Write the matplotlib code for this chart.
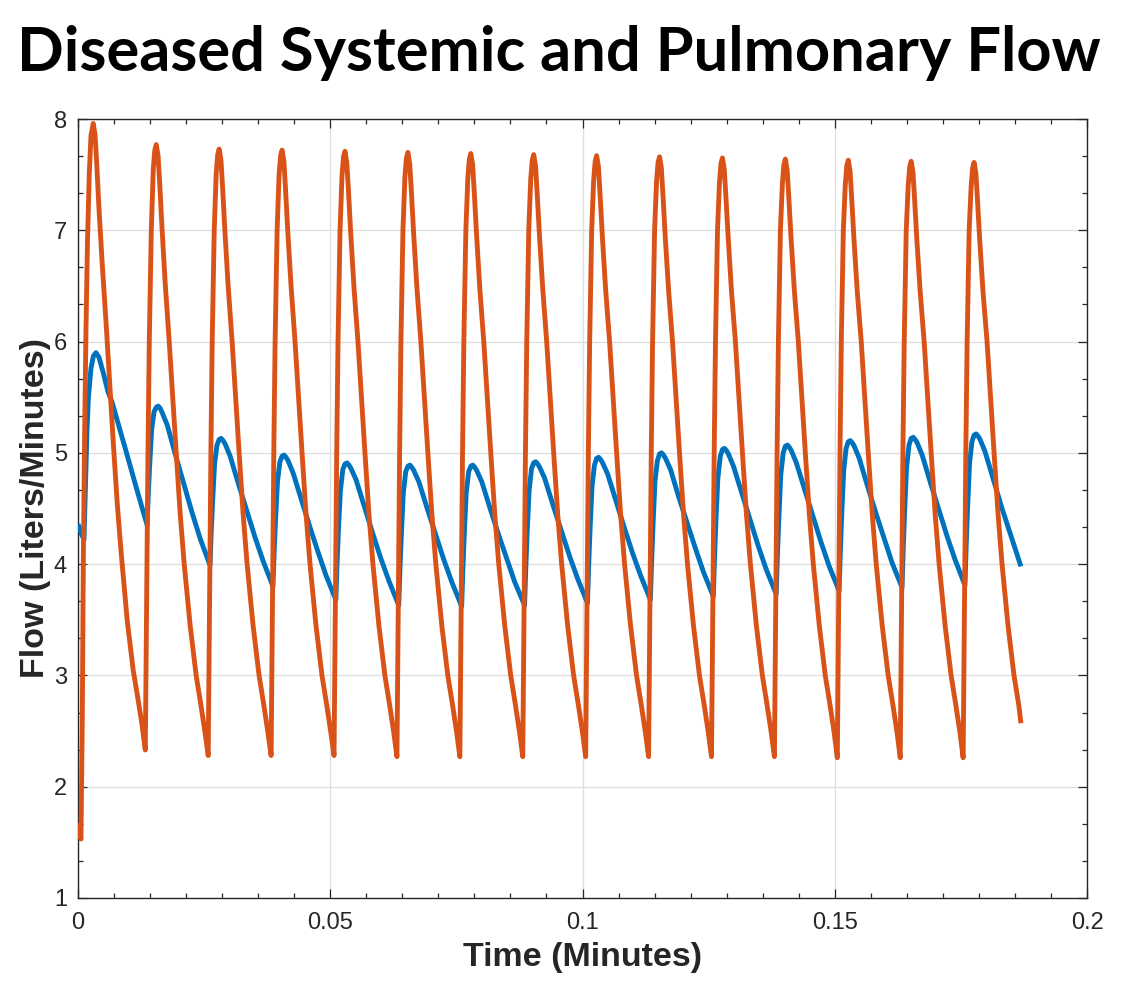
import matplotlib
matplotlib.use('Agg')
import matplotlib.pyplot as plt
from matplotlib.ticker import AutoMinorLocator, FixedLocator

# ---------------- data ----------------
title_text = "Diseased Systemic and Pulmonary Flow"
x_label = "Time (Minutes)"
y_label = "Flow (Liters/Minutes)"
x_ticks = [0, 0.05, 0.1, 0.15, 0.2]
x_tick_labels = ["0", "0.05", "0.1", "0.15", "0.2"]
y_ticks = [1, 2, 3, 4, 5, 6, 7, 8]
y_tick_labels = ["1", "2", "3", "4", "5", "6", "7", "8"]

# Systemic flow (blue)
sys_time = [
    0.0, 0.00049, 0.00119, 0.00148, 0.00178, 0.00207, 0.00257, 0.00306, 0.00356, 0.00415, 0.00500, 0.00593, 0.00672, 0.00949, 0.01160,
    0.01370, 0.01393, 0.01421, 0.01460, 0.01508, 0.01551, 0.01591, 0.01630, 0.01670, 0.01769, 0.01927, 0.02105, 0.02263, 0.02421,
    0.02617, 0.02640, 0.02668, 0.02707, 0.02755, 0.02798, 0.02838, 0.02877, 0.02917, 0.03016, 0.03174, 0.03352, 0.03510, 0.03668,
    0.03864, 0.03887, 0.03915, 0.03954, 0.04002, 0.04045, 0.04085, 0.04124, 0.04164, 0.04263, 0.04421, 0.04599, 0.04757, 0.04915,
    0.05111, 0.05134, 0.05162, 0.05201, 0.05249, 0.05292, 0.05332, 0.05371, 0.05411, 0.05510, 0.05668, 0.05846, 0.06004, 0.06162,
    0.06358, 0.06381, 0.06409, 0.06448, 0.06496, 0.06539, 0.06579, 0.06618, 0.06658, 0.06757, 0.06915, 0.07093, 0.07251, 0.07409,
    0.07605, 0.07628, 0.07656, 0.07695, 0.07743, 0.07786, 0.07826, 0.07865, 0.07905, 0.08004, 0.08162, 0.08340, 0.08498, 0.08656,
    0.08852, 0.08875, 0.08903, 0.08942, 0.08990, 0.09033, 0.09073, 0.09112, 0.09152, 0.09251, 0.09409, 0.09587, 0.09745, 0.09903,
    0.10099, 0.10122, 0.10150, 0.10189, 0.10237, 0.10280, 0.10320, 0.10359, 0.10399, 0.10498, 0.10656, 0.10834, 0.10992, 0.11150,
    0.11346, 0.11369, 0.11397, 0.11436, 0.11484, 0.11527, 0.11567, 0.11606, 0.11646, 0.11745, 0.11903, 0.12081, 0.12239, 0.12397,
    0.12593, 0.12616, 0.12644, 0.12683, 0.12731, 0.12774, 0.12814, 0.12853, 0.12893, 0.12992, 0.13150, 0.13328, 0.13486, 0.13644,
    0.13840, 0.13863, 0.13891, 0.13930, 0.13978, 0.14021, 0.14061, 0.14100, 0.14140, 0.14239, 0.14397, 0.14575, 0.14733, 0.14891,
    0.15087, 0.15110, 0.15138, 0.15177, 0.15225, 0.15268, 0.15308, 0.15347, 0.15387, 0.15486, 0.15644, 0.15822, 0.15980, 0.16138,
    0.16334, 0.16357, 0.16385, 0.16424, 0.16472, 0.16515, 0.16555, 0.16594, 0.16634, 0.16733, 0.16891, 0.17069, 0.17227, 0.17385,
    0.17581, 0.17604, 0.17632, 0.17671, 0.17719, 0.17762, 0.17802, 0.17841, 0.17881, 0.17980, 0.18138, 0.18316, 0.18474, 0.18632,
    0.18690,
]
sys_flow = [
    4.36, 4.29, 4.22, 4.70, 5.20, 5.50, 5.76, 5.87, 5.90, 5.86, 5.72, 5.55, 5.46, 5.02, 4.68,
    4.35, 4.62, 4.89, 5.21, 5.37, 5.41, 5.42, 5.40, 5.36, 5.25, 4.99, 4.71, 4.46, 4.23,
    3.99, 4.28, 4.56, 4.90, 5.07, 5.12, 5.13, 5.11, 5.08, 4.97, 4.73, 4.47, 4.24, 4.03,
    3.80, 4.10, 4.39, 4.74, 4.92, 4.97, 4.98, 4.96, 4.93, 4.82, 4.59, 4.33, 4.11, 3.90,
    3.68, 3.99, 4.30, 4.66, 4.85, 4.90, 4.91, 4.89, 4.86, 4.76, 4.53, 4.27, 4.05, 3.85,
    3.63, 3.95, 4.26, 4.64, 4.83, 4.88, 4.89, 4.87, 4.84, 4.74, 4.51, 4.26, 4.04, 3.84,
    3.62, 3.94, 4.26, 4.64, 4.83, 4.88, 4.89, 4.87, 4.84, 4.74, 4.51, 4.26, 4.05, 3.84,
    3.63, 3.95, 4.28, 4.66, 4.86, 4.91, 4.92, 4.90, 4.87, 4.77, 4.54, 4.29, 4.07, 3.87,
    3.65, 3.98, 4.31, 4.70, 4.89, 4.95, 4.96, 4.94, 4.91, 4.81, 4.58, 4.32, 4.10, 3.90,
    3.68, 4.01, 4.34, 4.74, 4.93, 4.99, 5.00, 4.98, 4.95, 4.85, 4.61, 4.36, 4.14, 3.93,
    3.71, 4.04, 4.38, 4.77, 4.97, 5.03, 5.04, 5.02, 4.99, 4.88, 4.65, 4.39, 4.16, 3.95,
    3.73, 4.07, 4.40, 4.80, 5.00, 5.06, 5.07, 5.05, 5.02, 4.91, 4.68, 4.42, 4.19, 3.98,
    3.76, 4.10, 4.44, 4.84, 5.04, 5.10, 5.11, 5.09, 5.06, 4.95, 4.71, 4.45, 4.23, 4.01,
    3.79, 4.13, 4.47, 4.87, 5.07, 5.13, 5.14, 5.12, 5.09, 4.98, 4.74, 4.48, 4.25, 4.04,
    3.81, 4.15, 4.49, 4.90, 5.10, 5.16, 5.17, 5.15, 5.12, 5.01, 4.77, 4.50, 4.28, 4.06,
    3.98,
]

# Pulmonary flow (orange)
pul_time = [
    0.0, 0.00059, 0.00085, 0.00105, 0.00132, 0.00158, 0.00188, 0.00223, 0.00257, 0.00302, 0.00338, 0.00371, 0.00415, 0.00480, 0.00559, 0.00698, 0.00777, 0.00856, 0.00974, 0.01093, 0.01192, 0.01271,
    0.01334, 0.01360, 0.01387, 0.01413, 0.01453, 0.01492, 0.01522, 0.01551, 0.01587, 0.01621, 0.01664, 0.01729, 0.01808, 0.01947, 0.02026, 0.02105, 0.02223, 0.02342, 0.02441, 0.02520,
    0.02581, 0.02607, 0.02634, 0.02660, 0.02700, 0.02739, 0.02769, 0.02798, 0.02834, 0.02868, 0.02911, 0.02976, 0.03055, 0.03194, 0.03273, 0.03352, 0.03470, 0.03589, 0.03688, 0.03767,
    0.03828, 0.03854, 0.03881, 0.03907, 0.03947, 0.03986, 0.04016, 0.04045, 0.04081, 0.04115, 0.04158, 0.04223, 0.04302, 0.04441, 0.04520, 0.04599, 0.04717, 0.04836, 0.04935, 0.05014,
    0.05075, 0.05101, 0.05128, 0.05154, 0.05194, 0.05233, 0.05263, 0.05292, 0.05328, 0.05362, 0.05405, 0.05470, 0.05549, 0.05688, 0.05767, 0.05846, 0.05964, 0.06083, 0.06182, 0.06261,
    0.06322, 0.06348, 0.06375, 0.06401, 0.06441, 0.06480, 0.06510, 0.06539, 0.06575, 0.06609, 0.06652, 0.06717, 0.06796, 0.06935, 0.07014, 0.07093, 0.07211, 0.07330, 0.07429, 0.07508,
    0.07569, 0.07595, 0.07622, 0.07648, 0.07688, 0.07727, 0.07757, 0.07786, 0.07822, 0.07856, 0.07899, 0.07964, 0.08043, 0.08182, 0.08261, 0.08340, 0.08458, 0.08577, 0.08676, 0.08755,
    0.08816, 0.08842, 0.08869, 0.08895, 0.08935, 0.08974, 0.09004, 0.09033, 0.09069, 0.09103, 0.09146, 0.09211, 0.09290, 0.09429, 0.09508, 0.09587, 0.09705, 0.09824, 0.09923, 0.10002,
    0.10063, 0.10089, 0.10116, 0.10142, 0.10182, 0.10221, 0.10251, 0.10280, 0.10316, 0.10350, 0.10393, 0.10458, 0.10537, 0.10676, 0.10755, 0.10834, 0.10952, 0.11071, 0.11170, 0.11249,
    0.11310, 0.11336, 0.11363, 0.11389, 0.11429, 0.11468, 0.11498, 0.11527, 0.11563, 0.11597, 0.11640, 0.11705, 0.11784, 0.11923, 0.12002, 0.12081, 0.12199, 0.12318, 0.12417, 0.12496,
    0.12557, 0.12583, 0.12610, 0.12636, 0.12676, 0.12715, 0.12745, 0.12774, 0.12810, 0.12844, 0.12887, 0.12952, 0.13031, 0.13170, 0.13249, 0.13328, 0.13446, 0.13565, 0.13664, 0.13743,
    0.13804, 0.13830, 0.13857, 0.13883, 0.13923, 0.13962, 0.13992, 0.14021, 0.14057, 0.14091, 0.14134, 0.14199, 0.14278, 0.14417, 0.14496, 0.14575, 0.14693, 0.14812, 0.14911, 0.14990,
    0.15051, 0.15077, 0.15104, 0.15130, 0.15170, 0.15209, 0.15239, 0.15268, 0.15304, 0.15338, 0.15381, 0.15446, 0.15525, 0.15664, 0.15743, 0.15822, 0.15940, 0.16059, 0.16158, 0.16237,
    0.16298, 0.16324, 0.16351, 0.16377, 0.16417, 0.16456, 0.16486, 0.16515, 0.16551, 0.16585, 0.16628, 0.16693, 0.16772, 0.16911, 0.16990, 0.17069, 0.17187, 0.17306, 0.17405, 0.17484,
    0.17545, 0.17571, 0.17598, 0.17624, 0.17664, 0.17703, 0.17733, 0.17762, 0.17798, 0.17832, 0.17875, 0.17940, 0.18019, 0.18158, 0.18237, 0.18316, 0.18434, 0.18553, 0.18652, 0.18690,
]
pul_flow = [
    1.67, 1.53, 2.60, 4.00, 5.20, 6.10, 6.90, 7.50, 7.85, 7.96, 7.86, 7.60, 7.20, 6.70, 6.15, 5.10, 4.55, 4.10, 3.50, 3.05, 2.78, 2.55,
    2.33, 3.60, 5.00, 6.00, 7.00, 7.55, 7.72, 7.77, 7.67, 7.41, 7.03, 6.52, 6.00, 5.00, 4.45, 4.00, 3.45, 3.00, 2.72, 2.48,
    2.28, 3.60, 5.00, 6.00, 7.00, 7.51, 7.68, 7.73, 7.63, 7.37, 7.00, 6.50, 6.00, 5.00, 4.45, 4.00, 3.45, 3.00, 2.72, 2.48,
    2.28, 3.60, 5.00, 6.00, 7.00, 7.50, 7.67, 7.72, 7.62, 7.36, 6.99, 6.50, 6.00, 5.00, 4.45, 4.00, 3.45, 3.00, 2.72, 2.48,
    2.28, 3.60, 5.00, 6.00, 7.00, 7.49, 7.66, 7.71, 7.61, 7.35, 6.98, 6.49, 6.00, 5.00, 4.45, 4.00, 3.45, 3.00, 2.72, 2.48,
    2.27, 3.60, 5.00, 6.00, 7.00, 7.48, 7.65, 7.70, 7.60, 7.34, 6.98, 6.49, 6.00, 5.00, 4.45, 4.00, 3.45, 3.00, 2.72, 2.48,
    2.27, 3.60, 5.00, 6.00, 7.00, 7.47, 7.64, 7.69, 7.59, 7.33, 6.97, 6.48, 6.00, 5.00, 4.45, 4.00, 3.45, 3.00, 2.72, 2.48,
    2.27, 3.60, 5.00, 6.00, 7.00, 7.46, 7.63, 7.68, 7.58, 7.32, 6.96, 6.48, 6.00, 5.00, 4.45, 4.00, 3.45, 3.00, 2.72, 2.48,
    2.27, 3.60, 5.00, 6.00, 7.00, 7.45, 7.62, 7.67, 7.57, 7.31, 6.95, 6.47, 6.00, 5.00, 4.45, 4.00, 3.45, 3.00, 2.72, 2.48,
    2.27, 3.60, 5.00, 6.00, 7.00, 7.44, 7.61, 7.66, 7.56, 7.30, 6.94, 6.47, 6.00, 5.00, 4.45, 4.00, 3.45, 3.00, 2.72, 2.48,
    2.27, 3.60, 5.00, 6.00, 7.00, 7.43, 7.60, 7.65, 7.55, 7.29, 6.94, 6.46, 6.00, 5.00, 4.45, 4.00, 3.45, 3.00, 2.72, 2.48,
    2.27, 3.60, 5.00, 6.00, 7.00, 7.42, 7.59, 7.64, 7.54, 7.28, 6.93, 6.46, 6.00, 5.00, 4.45, 4.00, 3.45, 3.00, 2.72, 2.48,
    2.26, 3.60, 5.00, 6.00, 7.00, 7.41, 7.58, 7.63, 7.53, 7.27, 6.92, 6.45, 6.00, 5.00, 4.45, 4.00, 3.45, 3.00, 2.72, 2.48,
    2.26, 3.60, 5.00, 6.00, 7.00, 7.40, 7.57, 7.62, 7.52, 7.26, 6.91, 6.45, 6.00, 5.00, 4.45, 4.00, 3.45, 3.00, 2.72, 2.48,
    2.26, 3.60, 5.00, 6.00, 7.00, 7.39, 7.56, 7.61, 7.51, 7.25, 6.90, 6.44, 6.00, 5.00, 4.45, 4.00, 3.45, 3.00, 2.72, 2.57,
]

# ---------------- figure ----------------
W, H, DPI = 1131, 989, 100
fig = plt.figure(figsize=(W / DPI, H / DPI), dpi=DPI)
fig.patch.set_facecolor('white')

ax = fig.add_axes([78 / W, 1 - 898 / H, (1087 - 78) / W, (898 - 119) / H])
ax.plot(sys_time, sys_flow, color='#0072BD', lw=3.5, solid_joinstyle='round', solid_capstyle='butt', zorder=3)
ax.plot(pul_time, pul_flow, color='#D95319', lw=3.5, solid_joinstyle='round', solid_capstyle='butt', zorder=4)

ax.set_xlim(0, 0.2)
ax.set_ylim(1, 8)
ax.xaxis.set_major_locator(FixedLocator(x_ticks))
ax.set_xticklabels(x_tick_labels)
ax.yaxis.set_major_locator(FixedLocator(y_ticks))
ax.set_yticklabels(y_tick_labels)
ax.xaxis.set_minor_locator(AutoMinorLocator(7))
ax.yaxis.set_minor_locator(AutoMinorLocator(3))

ax.grid(True, which='major', color='#dedede', lw=0.9)
ax.set_axisbelow(True)

dark = '#262626'
for s in ax.spines.values():
    s.set_color(dark)
    s.set_linewidth(1.0)
ax.tick_params(which='both', direction='in', top=True, right=True, color=dark, width=0.9)
ax.tick_params(which='major', length=6.5)
ax.tick_params(which='minor', length=3.5)
ax.tick_params(axis='x', which='major', pad=10)
ax.tick_params(axis='y', which='major', pad=8)
for lab in ax.get_xticklabels() + ax.get_yticklabels():
    lab.set_family('Liberation Sans')
    lab.set_fontsize(17)
    lab.set_color(dark)

ax.set_xlabel(x_label, family='Liberation Sans', fontweight='bold', fontsize=24.5, color=dark, labelpad=6)
ax.set_ylabel(y_label, family='Liberation Sans', fontweight='bold', fontsize=24.5, color=dark, labelpad=2)

t = fig.text(558.5 / W, 1 - 71 / H, title_text, ha='center', va='baseline',
             fontsize=40, fontweight='bold', family='Lato', color='black')
fig.canvas.draw()
bb = t.get_window_extent()
t.set_fontsize(40 * 1083 / bb.width)

fig.savefig('out.png', dpi=DPI, facecolor='white')
